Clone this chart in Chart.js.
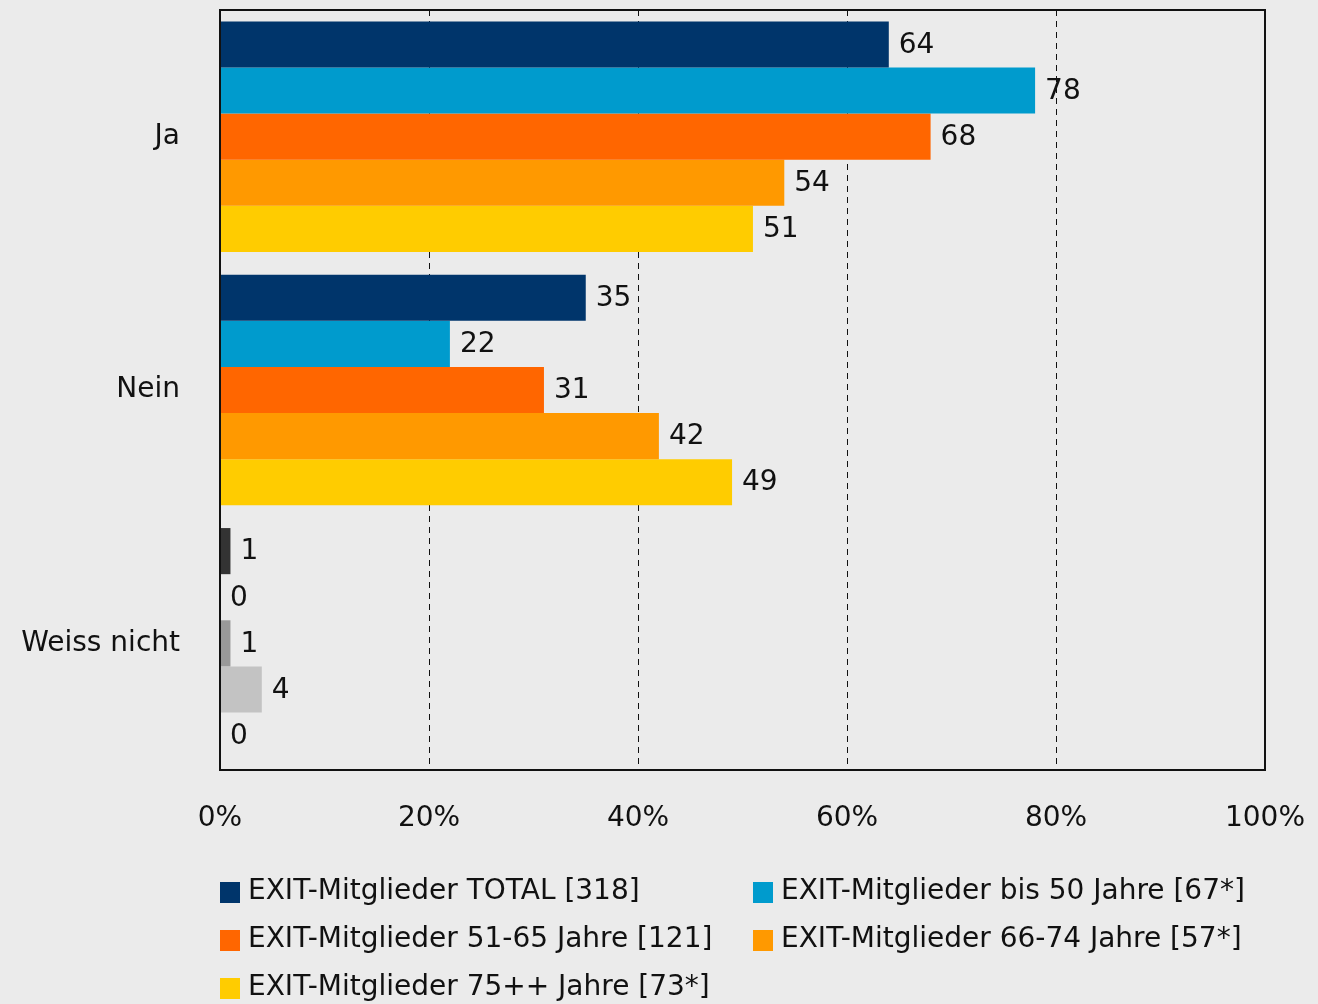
<!DOCTYPE html>
<html lang="de">
<head>
  <meta charset="UTF-8">
  <title>EXIT-Mitglieder</title>
  <style>
    body {
      margin: 0;
      background-color: #ebebeb;
    }
    .wrap {
      width: 1318px;
      height: 1004px;
    }
  </style>
  <script src="https://cdn.jsdelivr.net/npm/chart.js"></script>
</head>
<body>
  <div class="wrap">
    <canvas id="umfrageChart" width="1318" height="1004"></canvas>
  </div>

  <script>
    const categories = ['Ja', 'Nein', 'Weiss nicht'];
    const seriesNames = [
      'EXIT-Mitglieder TOTAL [318]',
      'EXIT-Mitglieder bis 50 Jahre [67*]',
      'EXIT-Mitglieder 51-65 Jahre [121]',
      'EXIT-Mitglieder 66-74 Jahre [57*]',
      'EXIT-Mitglieder 75++ Jahre [73*]'
    ];
    const total = [64, 35, 1];
    const bis50 = [78, 22, 0];
    const j51_65 = [68, 31, 1];
    const j66_74 = [54, 42, 4];
    const j75 = [51, 49, 0];
    const xTicks = [0, 20, 40, 60, 80, 100];

    const colors = ['#00356b', '#009bcd', '#ff6600', '#ff9900', '#ffcc00'];
    const greys = ['#333333', '#666666', '#999999', '#c3c3c3', '#d9d9d9'];
    const font = "'DejaVu Sans', sans-serif";

    const values = [total, bis50, j51_65, j66_74, j75];

    // Hintergrund, Rahmen, Werte und Legende
    const extras = {
      id: 'extras',
      beforeDraw(chart) {
        const c = chart.ctx;
        c.save();
        c.fillStyle = '#ebebeb';
        c.fillRect(0, 0, chart.width, chart.height);
        c.restore();
      },
      afterDatasetsDraw(chart) {
        const c = chart.ctx;
        const a = chart.chartArea;
        c.save();
        c.strokeStyle = '#111';
        c.lineWidth = 2;
        c.strokeRect(a.left, a.top, a.right - a.left, a.bottom - a.top);

        c.font = '28px ' + font;
        c.fillStyle = '#111';
        c.textBaseline = 'middle';
        c.textAlign = 'left';
        chart.data.datasets.forEach((ds, i) => {
          chart.getDatasetMeta(i).data.forEach((bar, j) => {
            c.fillText(ds.data[j], bar.x + 10, bar.y + 1);
          });
        });

        // Legende in zwei Spalten
        chart.data.datasets.forEach((ds, i) => {
          const col = i % 2;
          const row = Math.floor(i / 2);
          const x = a.left + col * 533;
          const y = a.bottom + 122 + row * 48;
          c.fillStyle = ds.backgroundColor[0];
          c.fillRect(x, y - 10, 20, 21);
          c.fillStyle = '#111';
          c.fillText(ds.label, x + 28, y);
        });
        c.restore();
      }
    };

    const ctx = document.getElementById('umfrageChart').getContext('2d');
    const chart = new Chart(ctx, {
      type: 'bar',
      data: {
        labels: categories,
        datasets: seriesNames.map((name, i) => ({
          label: name,
          data: values[i],
          backgroundColor: [colors[i], colors[i], greys[i]],
          borderWidth: 0,
          categoryPercentage: 0.91,
          barPercentage: 1
        }))
      },
      options: {
        indexAxis: 'y',
        responsive: false,
        animation: false,
        layout: {
          padding: { top: 10, right: 53, left: 0, bottom: 0 }
        },
        scales: {
          x: {
            min: 0,
            max: 100,
            afterBuildTicks: (s) => { s.ticks = xTicks.map(v => ({ value: v })); },
            afterFit: (s) => {
              s.height = 234;
              s.paddingLeft = 0;
              s.paddingRight = 0;
            },
            border: { display: false },
            grid: {
              color: (c) => (c.tick && (c.tick.value === 0 || c.tick.value === 100)) ? 'rgba(0,0,0,0)' : '#111',
              lineWidth: 1,
              drawTicks: false
            },
            ticks: {
              padding: 32,
              color: '#111',
              font: { family: font, size: 28 },
              maxRotation: 0,
              callback: (v) => v + '%'
            }
          },
          y: {
            afterFit: (s) => {
              s.width = 220;
              s.paddingTop = 0;
              s.paddingBottom = 0;
            },
            border: { display: false },
            grid: { display: false, drawTicks: false },
            ticks: {
              padding: 40,
              color: '#111',
              font: { family: font, size: 28 }
            }
          }
        },
        plugins: {
          legend: { display: false },
          tooltip: { enabled: false }
        }
      },
      plugins: [extras]
    });
    // gestrichelte Gitterlinien
    chart.options.scales.x.border.dash = [6, 5];
    chart.update();
  </script>
</body>
</html>
